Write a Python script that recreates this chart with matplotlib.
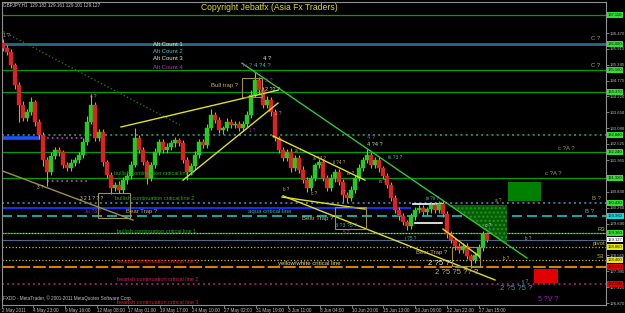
import matplotlib
matplotlib.use('Agg')
import matplotlib.pyplot as plt
from matplotlib.patches import Rectangle, Polygon
import matplotlib.transforms as mtransforms

plt.rcParams['font.family'] = ['Liberation Sans', 'DejaVu Sans']

# ---------------- data ----------------
first_open = 136.10
closes = [135.94, 135.80, 135.33, 134.62, 133.91, 133.45, 133.66, 134.02, 133.31, 132.84,
          131.96, 131.53, 132.10, 132.31, 132.24, 131.78, 131.67, 131.85, 131.96, 132.13,
          132.60, 133.31, 133.91, 132.74, 132.95, 131.88, 131.42, 130.96, 131.07, 130.89,
          131.24, 131.39, 131.78, 132.74, 132.31, 131.88, 131.32, 131.78, 132.24, 132.60,
          132.31, 132.42, 132.56, 132.67, 132.56, 131.96, 131.53, 131.74, 132.13, 132.60,
          132.49, 133.09, 133.56, 133.38, 133.02, 133.09, 133.31, 133.20, 133.24, 133.09,
          133.24, 133.56, 134.27, 134.80, 134.44, 133.91, 134.09, 133.66, 132.74, 132.31,
          132.03, 132.24, 131.67, 132.03, 131.60, 131.24, 130.96, 131.32, 131.78, 131.88,
          131.32, 130.96, 131.32, 131.53, 131.17, 130.71, 130.60, 130.89, 131.32, 131.67,
          131.96, 132.13, 131.78, 131.96, 131.67, 131.39, 131.07, 130.60, 130.18, 129.96,
          129.75, 129.61, 129.96, 130.18, 130.25, 130.11, 130.21, 130.36, 130.18, 130.39,
          130.04, 129.32, 129.11, 128.90, 128.76, 128.90, 128.54, 128.40, 128.58, 128.83,
          129.32, 129.127]
wick_up = [0.15, 0.10, 0.12, 0.08, 0.10, 0.14, 0.10, 0.18, 0.08, 0.10,
           0.12, 0.10, 0.15, 0.10, 0.12, 0.08, 0.10, 0.14, 0.10, 0.12,
           0.15, 0.20, 0.35, 0.10, 0.12, 0.10, 0.08, 0.12, 0.10, 0.15,
           0.10, 0.12, 0.15, 0.35, 0.10, 0.12, 0.08, 0.10, 0.14, 0.12,
           0.10, 0.15, 0.12, 0.10, 0.08, 0.12, 0.10, 0.12, 0.15, 0.10,
           0.12, 0.15, 0.20, 0.10, 0.12, 0.08, 0.14, 0.10, 0.12, 0.10,
           0.12, 0.15, 0.18, 0.30, 0.10, 0.12, 0.15, 0.10, 0.12, 0.08,
           0.10, 0.12, 0.15, 0.10, 0.12, 0.14, 0.10, 0.12, 0.08, 0.10,
           0.12, 0.10, 0.14, 0.10, 0.12, 0.10, 0.12, 0.15, 0.10, 0.14,
           0.12, 0.20, 0.10, 0.12, 0.10, 0.08, 0.12, 0.10, 0.12, 0.10,
           0.10, 0.08, 0.12, 0.10, 0.12, 0.10, 0.08, 0.12, 0.10, 0.12,
           0.15, 0.10, 0.12, 0.08, 0.10, 0.12, 0.10, 0.08, 0.12, 0.15,
           0.10, 0.08]
wick_dn = [0.10, 0.12, 0.10, 0.14, 0.60, 0.10, 0.12, 0.10, 0.15, 0.12,
           0.20, 0.50, 0.12, 0.10, 0.14, 0.10, 0.12, 0.10, 0.12, 0.10,
           0.12, 0.10, 0.08, 0.12, 0.10, 0.15, 0.12, 0.20, 0.10, 0.12,
           0.10, 0.12, 0.10, 0.08, 0.12, 0.10, 0.20, 0.12, 0.10, 0.12,
           0.12, 0.10, 0.12, 0.15, 0.10, 0.12, 0.30, 0.10, 0.12, 0.10,
           0.10, 0.12, 0.08, 0.10, 0.12, 0.14, 0.10, 0.12, 0.10, 0.12,
           0.10, 0.12, 0.10, 0.08, 0.12, 0.10, 0.12, 0.15, 0.10, 0.12,
           0.12, 0.10, 0.14, 0.10, 0.12, 0.10, 0.15, 0.12, 0.10, 0.12,
           0.10, 0.12, 0.10, 0.14, 0.12, 0.25, 0.15, 0.10, 0.12, 0.10,
           0.12, 0.10, 0.12, 0.10, 0.14, 0.10, 0.12, 0.10, 0.12, 0.14,
           0.12, 0.15, 0.10, 0.12, 0.10, 0.12, 0.10, 0.14, 0.10, 0.12,
           0.10, 0.12, 0.10, 0.14, 0.12, 0.10, 0.12, 0.30, 0.12, 0.10,
           0.12, 0.10]

time_labels = ["2 May 2011", "4 May 23:00", "9 May 16:00", "12 May 08:00", "17 May 01:00",
               "19 May 17:00", "24 May 10:00", "27 May 02:00", "31 May 19:00", "3 Jun 11:00",
               "8 Jun 04:00", "10 Jun 20:00", "15 Jun 13:00", "20 Jun 06:00", "22 Jun 22:00",
               "27 Jun 15:00"]
time_label_bars = [-0.25, 7.5, 15.5, 23.5, 31.25, 39.25, 47.25, 55.25, 63.25, 71.25,
                   79.25, 87.25, 95.0, 103.0, 111.0, 119.0]

price_ticks = [136.470, 135.915, 135.345, 134.775, 134.220, 133.650, 133.080, 132.525,
               131.955, 131.385, 130.830, 130.260, 129.690, 129.120, 128.565, 127.995,
               127.425, 126.870]
# tick labels hidden under the price boxes in the reference
price_tick_labels = ["136.470", "135.915", "135.345", "134.775", "134.220", "133.650",
                     "133.080", "132.525", "131.955", "", "130.830", "130.260", "129.690",
                     "", "128.565", "127.995", "127.425", "126.870"]

level_prices = [137.11, 136.08, 135.16, 134.37, 132.84, 132.24, 131.32, 130.43, 129.96,
                129.36, 129.36, 129.11, 128.86, 128.40, 128.15, 127.55]
level_colors = ['#00a000', '#2a6a8a', '#00a000', '#00a000', '#1a8a6a', '#00a000', '#00a000',
                '#3a7a9a', '#10c8c8', '#00a000', '#c8c870', '#4a6a8a', '#c8c020', '#c8c020',
                '#d88000', '#902070']
level_styles = ['-', '-', '-', '-', ':', '-', '-', ':', (0, (6, 3)), '-', ':', '-', ':', ':',
                (0, (6, 1.5)), ':']
level_widths = [0.9, 2.0, 0.9, 0.9, 1.4, 0.9, 0.9, 1.4, 1.2, 0.9, 0.8, 0.8, 0.9, 0.9, 1.5, 1.4]

box_prices = [137.11, 136.08, 135.16, 134.37, 132.84, 132.24, 131.32, 130.43, 129.96,
              129.36, 129.127, 128.86, 128.40, 128.15, 127.55]
box_colors = ['#33dd33', '#33dd33', '#33dd33', '#33dd33', '#33dd33', '#33dd33', '#33dd33',
              '#33dd33', '#00e0e0', '#33dd33', '#ffffff', '#e8e800', '#e8e800', '#e00000',
              '#e00000']

seg_bar0 = [-0.25, -0.25, 11.0, 11.0, 102.5, 103.0]
seg_bar1 = [101.75, 8.75, 20.75, 21.0, 110.0, 109.75]
seg_price = [130.25, 132.74, 132.74, 131.21, 130.39, 129.72]
seg_color = ['#1030ff', '#2050ff', '#c030c0', '#c030c0', '#ffffff', '#ffffff']
seg_style = ['-', '-', ':', ':', '-', '-']
seg_width = [1.4, 2.6, 1.3, 1.3, 1.2, 1.2]

tl_bar0 = [-0.75, -0.75, 29.5, 45.0, 59.75, 67.5, 69.75, 70.0, 110.0]
tl_p0 = [136.58, 131.60, 133.13, 131.24, 135.40, 132.81, 130.64, 130.68, 129.50]
tl_bar1 = [44.25, 32.5, 68.75, 68.75, 131.0, 90.5, 90.5, 123.0, 119.25]
tl_p1 = [133.20, 129.82, 134.44, 133.98, 128.47, 131.24, 130.21, 127.69, 128.51]
tl_color = ['#207020', '#a09040', '#e0e020', '#e0e020', '#30c830', '#e0e020', '#e0e020',
            '#e0e020', '#e0e020']
tl_style = [':', '-', '-', '-', '-', '-', '-', '-', '-']

trap_bar0 = [59.75, 23.75, 83.0, 112.25]
trap_bar1 = [64.75, 31.75, 90.75, 119.25]
trap_lo = [134.19, 129.89, 129.50, 128.19]
trap_hi = [134.87, 130.78, 130.28, 128.86]

notes = [
    (0.0, 137.47, "GBPJPY,H1  129.182 129.161 129.101 129.127", '#d0d0d0', 3.3),
    (49.5, 137.38, "Copyright Jebatfx (Asia Fx Traders)", '#e0e000', 6.2),
    (37.5, 136.08, "Alt Count 1", '#e8e8a0', 4.3),
    (37.5, 135.80, "Alt Count 2", '#40c0c0', 4.3),
    (37.5, 135.55, "Alt Count 3", '#e0e0e0', 4.3),
    (37.5, 135.26, "Alt Count 4", '#c030c0', 4.3),
    (0.0, 136.40, "1 ?", '#c8b060', 3.5),
    (65.0, 135.58, "4 ?", '#e0e0e0', 4.3),
    (60.0, 135.33, "iv ?", '#b030c0', 4.3),
    (62.8, 135.33, "4 ?4 ?", '#40c0c0', 4.3),
    (52.0, 134.62, "Bull trap ?", '#c8b060', 4.3),
    (65.5, 134.80, "2 ?", '#b030c0', 4.0),
    (65.5, 134.48, "2 ?2 ?", '#c0d0d0', 4.0),
    (21.75, 134.23, "4 ?", '#c8b060', 3.3),
    (8.5, 130.99, "3 ?", '#c8b060', 3.3),
    (68.0, 133.60, "2 ?", '#c8b060', 3.3),
    (61.5, 133.02, "1 ?", '#b030c0', 3.3),
    (73.0, 132.30, "a ?", '#c8b060', 3.3),
    (27.75, 131.46, "bullish continuation critical line 3", '#20b020', 4.0),
    (19.25, 130.57, "3 2 1 ? ? ?", '#d0d0d0', 3.5),
    (28.0, 130.57, "bullish continuation critical line 2", '#20b020', 4.0),
    (20.75, 130.14, "iii ?3 ?", '#b030c0', 3.8),
    (30.75, 130.11, "Bear Trap ?", '#c8b060', 4.3),
    (61.25, 130.11, "aqua critical line", '#30b0b0', 4.3),
    (74.75, 129.89, "Bear Trap ?", '#c8b060', 4.3),
    (83.0, 129.61, "3 ?3 ?5 ?", '#30b0b0', 3.8),
    (85.0, 129.38, "5 ?", '#b030c0', 3.3),
    (28.5, 129.43, "bullish continuation critical line 1", '#20b020', 4.0),
    (28.5, 128.33, "bearish continuation critical line 1", '#e02020', 4.0),
    (68.75, 128.29, "yellow/white critical line", '#e0e0a0', 4.3),
    (28.5, 127.72, "bearish continuation critical line 2", '#d02060', 4.0),
    (28.5, 126.90, "bearish continuation critical line 3", '#e02020', 4.0),
    (0.0, 127.05, "FXDD - MetaTrader, \u00a9 2001-2011 MetaQuotes Software Corp.", '#c0c0c0', 3.3),
    (91.0, 132.77, "4 ?", '#b030c0', 4.0),
    (91.0, 132.49, "4 ?4 ?", '#c0e0c0', 4.0),
    (96.25, 132.06, "iii ?3 ?", '#40c0c0', 3.5),
    (77.5, 132.00, "a ?4 ?", '#c8b060', 3.3),
    (82.5, 131.85, "ii ?4 ?", '#c8b060', 3.3),
    (86.0, 131.46, "iv ?", '#c8b060', 3.3),
    (94.0, 131.20, "iv ?", '#c8b060', 3.3),
    (70.0, 130.90, "b ?", '#c8b060', 3.3),
    (77.0, 130.75, "c ?", '#c8b060', 3.3),
    (84.5, 130.80, "i ?", '#c8b060', 3.3),
    (105.75, 130.60, "iii ?ii ?", '#40c0c0', 3.3),
    (100.5, 129.18, "i ?5 ?", '#40c0c0', 3.3),
    (106.25, 128.29, "2 ?5 ?", '#f0f0f0', 5.6),
    (108.0, 127.94, "2 ?5 ?5 ?? ?", '#c8b060', 5.6),
    (124.25, 127.37, "2 ?5 ?5 ?", '#20a8a8', 5.6),
    (133.75, 126.98, "5 ?V ?", '#a020c0', 5.0),
    (129.75, 127.65, "v ?", '#40c0c0', 3.3),
    (123.0, 130.50, "a ?", '#c8b060', 3.3),
    (120.5, 129.62, "c ?", '#d0d0d0', 3.3),
    (130.5, 129.18, "b ?", '#c8b060', 3.3),
    (125.0, 128.47, "b ?", '#c8b060', 3.3),
    (103.25, 128.65, "Bear Trap ?", '#c8b060', 4.3),
    (147.0, 136.29, "C ?", '#a0a040', 4.3),
    (147.0, 135.33, "C ?", '#a0a0a0', 4.3),
    (138.75, 132.38, "c ?A ?", '#a0a040', 4.3),
    (135.5, 131.46, "c ?A ?", '#a0a040', 4.3),
    (147.25, 130.57, "B ?", '#a0a040', 4.3),
    (145.5, 130.11, "B ?", '#a0a0a0', 4.3),
    (148.5, 129.50, "R3", '#c0c000', 4.3),
    (147.3, 128.97, "pivot", '#c0c000', 4.3),
    (148.5, 128.51, "S3", '#c0c000', 4.3),
]

# ---------------- figure ----------------
fig = plt.figure(figsize=(6.25, 3.13), dpi=100, facecolor='black')
ax = fig.add_axes([2 / 625, 8 / 313, 604 / 625, 303 / 313])
ax.set_facecolor('black')
ax.set_xlim(-0.25, 150.75)
ax.set_ylim(126.80, 137.574)

for p, c, s, w in zip(level_prices, level_colors, level_styles, level_widths):
    ax.axhline(p, color=c, linestyle=s, linewidth=w, zorder=1)

for b0, b1, p, c, s, w in zip(seg_bar0, seg_bar1, seg_price, seg_color, seg_style, seg_width):
    ax.plot([b0, b1], [p, p], color=c, linestyle=s, linewidth=w, zorder=2)

zone = Polygon([[111.75, 130.36], [126.0, 130.36], [126.0, 128.97]], closed=True,
               facecolor='#0a5a0a', edgecolor='#10a010', linewidth=0, hatch='....', zorder=1.5)
ax.add_patch(zone)
ax.add_patch(Rectangle((126.25, 130.50), 8.25, 0.67, facecolor='#008000', edgecolor='none', zorder=2))
ax.add_patch(Rectangle((132.75, 127.58), 6.0, 0.50, facecolor='#e00000', edgecolor='none', zorder=2))

opens = [first_open] + closes[:-1]
xs = list(range(len(closes)))
for x, o, c, wu, wd in zip(xs, opens, closes, wick_up, wick_dn):
    hi = max(o, c) + wu
    lo = min(o, c) - wd
    col = '#22cc22' if c >= o else '#dd2222'
    ax.vlines(x, lo, hi, color='#b4a470', linewidth=0.8, zorder=3)
    ax.bar(x, max(abs(c - o), 0.03), bottom=min(o, c), width=0.8, color=col,
           edgecolor=col, linewidth=0.3, zorder=4)

for b0, p0, b1, p1, c, s in zip(tl_bar0, tl_p0, tl_bar1, tl_p1, tl_color, tl_style):
    ax.plot([b0, b1], [p0, p1], color=c, linestyle=s, linewidth=1.0, zorder=5)

for b0, b1, lo, hi in zip(trap_bar0, trap_bar1, trap_lo, trap_hi):
    ax.add_patch(Rectangle((b0, lo), b1 - b0, hi - lo, facecolor='none',
                           edgecolor='#a09040', linewidth=0.8, zorder=5))

for bx, py, t, c, s in notes:
    ax.text(bx, py, t, color=c, fontsize=s, ha='left', va='center', zorder=6, clip_on=True)

trans = mtransforms.blended_transform_factory(ax.transAxes, ax.transData)
for p, c in zip(box_prices, box_colors):
    ax.text(1.003, p, f"{p:.3f}", transform=trans, fontsize=3.0, color='#101010',
            ha='left', va='center', zorder=7, clip_on=False,
            bbox=dict(boxstyle='square,pad=0.2', facecolor=c, edgecolor='none'))

for sp in ax.spines.values():
    sp.set_color('#909090')
    sp.set_linewidth(0.8)
ax.yaxis.tick_right()
ax.set_yticks(price_ticks)
ax.set_yticklabels(price_tick_labels)
ax.set_xticks(time_label_bars)
ax.set_xticklabels(time_labels)
ax.tick_params(axis='y', colors='#909090', labelcolor='#c0c0c0', labelsize=3.1,
               length=2, width=0.6, pad=0.6, direction='out')
ax.tick_params(axis='x', colors='#909090', labelcolor='#c0c0c0', labelsize=3.3,
               length=2, width=0.6, pad=0.5, direction='out')
for lab in ax.get_xticklabels():
    lab.set_ha('left')

fig.savefig('out.png', dpi=100, facecolor='black')
